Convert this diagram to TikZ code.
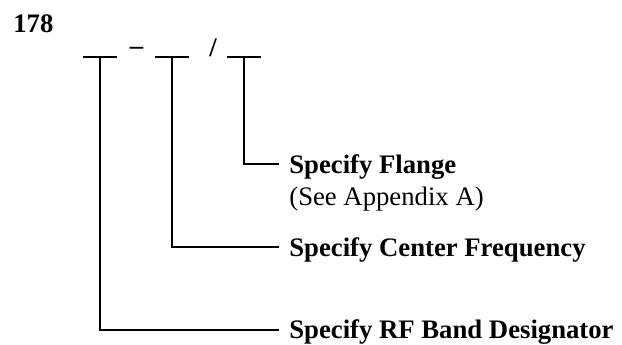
\documentclass[tikz,border=0pt]{standalone}
\usepackage{fontspec}
\setmainfont{Liberation Serif}
\usetikzlibrary{positioning}

\begin{document}
\begin{tikzpicture}[
  slot/.style={line width=1.1pt},
  spec/.style={font=\fontsize{15.2}{18}\selectfont\bfseries, anchor=base west, inner sep=0pt},
  note/.style={font=\fontsize{15.2}{18}\selectfont, anchor=base west, inner sep=0pt},
]
  \useasboundingbox (0,0) rectangle (12.44,6.9);
  \node[spec] (model) at (0.26,6.24) {178};

  % blanks of the part number
  \coordinate (band)   at (2.00,5.76);
  \coordinate (freq)   at (3.44,5.76);
  \coordinate (flange) at (4.88,5.76);
  \foreach \c in {band, freq, flange}
    \draw[slot] ([xshift=-0.34cm]\c) -- ([xshift=0.34cm]\c);
  \node[spec, anchor=base] (dash)  at (2.73,5.8) {--};
  \node[spec, anchor=base] (slash) at (4.26,5.77) {/};

  % leaders to the descriptions
  \coordinate (bandend)   at (5.58,0.30);
  \coordinate (freqend)   at (5.58,1.96);
  \coordinate (flangeend) at (5.58,3.62);
  \draw[slot] (band) |- (bandend);
  \draw[slot] (freq) |- (freqend);
  \draw[slot] (flange) |- (flangeend);

  \node[spec] (bandtxt)   at ([xshift=0.2cm, yshift=-0.17cm]bandend)  {Specify RF Band Designator};
  \node[spec] (freqtxt)   at ([xshift=0.2cm, yshift=-0.2cm]freqend)   {Specify Center Frequency};
  \node[spec] (flangetxt) at ([xshift=0.2cm, yshift=-0.2cm]flangeend) {Specify Flange};
  \node[note] (flangenote) at ([yshift=-0.64cm]flangetxt.base west) {(See Appendix A)};
\end{tikzpicture}
\end{document}
